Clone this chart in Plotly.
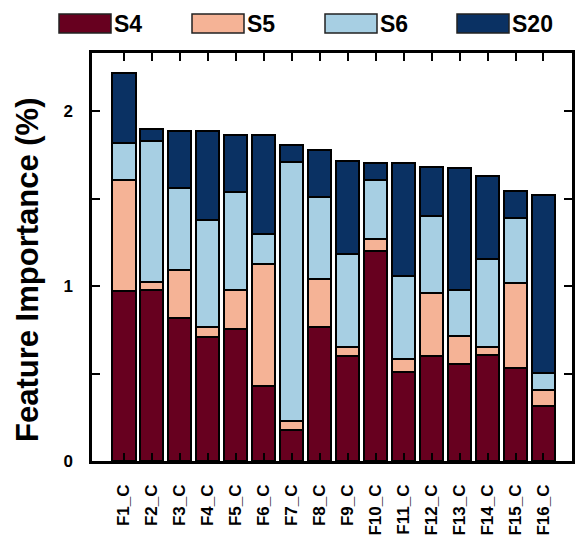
import plotly.graph_objects as go

categories = [f"F{i}_C" for i in range(1, 17)]
s4 = [0.97, 0.977, 0.82, 0.71, 0.756, 0.427, 0.18, 0.767, 0.603, 1.20, 0.511, 0.603, 0.553, 0.607, 0.533, 0.313]
s5 = [0.64, 0.048, 0.27, 0.057, 0.221, 0.70, 0.051, 0.276, 0.048, 0.071, 0.073, 0.356, 0.164, 0.044, 0.486, 0.092]
s6 = [0.21, 0.808, 0.47, 0.61, 0.564, 0.174, 1.482, 0.466, 0.534, 0.335, 0.477, 0.441, 0.264, 0.507, 0.372, 0.099]
s20 = [0.40, 0.069, 0.33, 0.51, 0.326, 0.566, 0.097, 0.269, 0.53, 0.099, 0.644, 0.282, 0.694, 0.471, 0.154, 1.02]
series_names = ["S4", "S5", "S6", "S20"]
series_values = [s4, s5, s6, s20]
colors = ["#67001f", "#f5b396", "#a7cfe3", "#0a3163"]
y_tickvals = [0, 1, 2]
y_ticktext = ["0", "1", "2"]
y_title = "Feature Importance (%)"

W, H = 577, 536
ml, mr, mt, mb = 92, 5, 53, 75
pw, ph = W - ml - mr, H - mt - mb

fig = go.Figure()
for name, vals, col in zip(series_names, series_values, colors):
    fig.add_trace(go.Bar(
        x=categories, y=vals, name=name, marker_color=col,
        marker_line_color="black", marker_line_width=2, width=0.83,
        showlegend=False,
    ))

def px_to_paper(x, y):
    return (x - ml) / pw, (H - mb - y) / ph

# custom legend with wide swatches
legend_x = [59, 192, 325, 457]
shapes = []
annotations = []
for name, col, lx in zip(series_names, colors, legend_x):
    x0, y0 = px_to_paper(lx, 14)
    x1, y1 = px_to_paper(lx + 52, 33)
    shapes.append(dict(type="rect", xref="paper", yref="paper", x0=x0, x1=x1, y0=y1, y1=y0,
                       fillcolor=col, line=dict(color="#222", width=1.5)))
    tx, ty = px_to_paper(lx + 53, 24)
    annotations.append(dict(text=name, xref="paper", yref="paper", x=tx, y=ty,
                            xanchor="left", yanchor="middle", showarrow=False,
                            font=dict(size=23, color="black", weight="bold")))

# y-axis title
tx, ty = px_to_paper(27, 270)
annotations.append(dict(text=y_title, xref="paper", yref="paper", x=tx, y=ty,
                        xanchor="center", yanchor="middle", textangle=-90, showarrow=False,
                        font=dict(size=31, color="black", weight="bold")))

fig.update_layout(
    barmode="stack",
    width=W, height=H,
    margin=dict(l=ml, r=mr, t=mt, b=mb, autoexpand=False),
    plot_bgcolor="white", paper_bgcolor="white",
    font=dict(family="Liberation Sans, Arial, sans-serif", color="black", weight="bold"),
    shapes=shapes, annotations=annotations,
)
fig.update_xaxes(
    range=[-1.14, 16.02], showline=True, linecolor="black", linewidth=2.5, mirror="ticks",
    ticks="inside", ticklen=8, tickwidth=2, tickcolor="black",
    tickangle=-90, tickfont=dict(size=17, weight="bold"), ticklabelstandoff=14,
    showgrid=False, automargin=False,
)
fig.update_yaxes(
    range=[0, 2.334], showline=True, linecolor="black", linewidth=2.5, mirror="ticks",
    ticks="inside", ticklen=8, tickwidth=2, tickcolor="black",
    tickvals=y_tickvals, ticktext=y_ticktext, tickfont=dict(size=17, weight="bold"),
    ticklabelstandoff=13,
    minor=dict(dtick=0.5, ticks="inside", ticklen=8, tickwidth=2, tickcolor="black", showgrid=False),
    showgrid=False, zeroline=False, automargin=False,
)
fig.write_html("out.html", config={"displayModeBar": False},
               post_script="document.body.style.margin='0';document.body.style.overflow='hidden';")
